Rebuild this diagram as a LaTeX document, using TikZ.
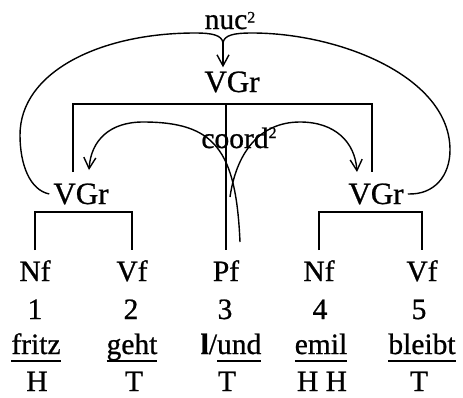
\documentclass[tikz,border=0pt]{standalone}
\usepackage{fontspec}
\setmainfont[FakeBold=0.8]{Liberation Serif}
\usetikzlibrary{arrows.meta}
% underline at a fixed depth, independent of descenders
\newcommand\ulword[1]{\setbox0=\hbox{#1}\rlap{\rule[-7.7pt]{\wd0}{1.5pt}}\box0}
% small raised 2 that does not take part in centring
\newcommand\supertwo[1]{\rlap{\raisebox{#1}{\fontsize{16}{16}\selectfont 2}}}
\begin{document}
\begin{tikzpicture}[x=1pt,y=-1pt,
  lbl/.style={anchor=base,inner sep=0pt,font=\fontsize{29.5}{30}\selectfont},
  grp/.style={anchor=base,inner sep=4pt,font=\fontsize{31}{32}\selectfont},
  tree/.style={line width=1.8pt},
  rel/.style={line width=1.4pt},
  tip/.style={-{Straight Barb[length=11pt,width=12pt,line width=1.4pt]}}
]
\useasboundingbox (0,0) rectangle (463,397);

% phrase nodes
\node[grp] (vgrT) at (232,92) {VGr};
\node[grp] (vgrL) at (81,204) {VGr};
\node[grp] (vgrR) at (376,204) {VGr};

% word categories
\node[lbl] (nf1) at (35,281) {Nf};
\node[lbl] (vf2) at (132,281) {Vf};
\node[lbl] (pf3) at (226,281) {Pf};
\node[lbl] (nf4) at (319,281) {Nf};
\node[lbl] (vf5) at (422,281) {Vf};

% positions
\node[lbl] (n1) at (35,319) {1};
\node[lbl] (n2) at (131,319) {2};
\node[lbl] (n3) at (225,319) {3};
\node[lbl] (n4) at (320,319) {4};
\node[lbl] (n5) at (419,319) {5};

% words
\node[lbl] (w1) at (36,354) {\ulword{fritz}};
\node[lbl] (w2) at (132,354) {\ulword{geht}};
\node[lbl] (w3) at (231,354) {{\bfseries l}/\ulword{und}};
\node[lbl] (w4) at (321,354) {\ulword{emil}};
\node[lbl] (w5) at (422,354) {\ulword{bleibt}};

% tags
\node[lbl] (t1) at (37,391) {H};
\node[lbl] (t2) at (134,391) {T};
\node[lbl] (t3) at (227,391) {T};
\node[lbl] (t4) at (322,391) {H H};
\node[lbl] (t5) at (419,391) {T};

% relation labels
\node[lbl] (nuc) at (226,29) {nuc\supertwo{6.5pt}};
\node[lbl] (coord) at (235,148) {coord\supertwo{10pt}};

% upper tree
\coordinate (hub) at (226,104);
\coordinate (lstem) at (73,172);
\coordinate (rstem) at (372,172);
\draw[tree] (lstem) |- (hub) -| (rstem);
\draw[tree] (hub) -- ([yshift=31pt]pf3.base);

% lower brackets
\draw[tree] ([yshift=31pt]nf1.base) |- ([yshift=69pt]nf1.base) -| ([yshift=31pt]vf2.base);
\draw[tree] ([yshift=31pt]nf4.base) |- ([yshift=69pt]nf4.base) -| ([yshift=31pt]vf5.base);

% nuc relation: two arcs meeting above the top group
\coordinate (cusp) at (223,43);
\draw[rel] (vgrL.west) .. controls (30,190) and (20,165) .. (20,135)
  .. controls (20,72) and (100,33) .. (195,33)
  .. controls (212,33) and (222,35) .. (cusp);
\draw[rel] (vgrR.east) .. controls (435,195) and (450,175) .. (450,150)
  .. controls (450,77) and (340,33) .. (252,33)
  .. controls (234,33) and (224,35) .. (cusp);
\draw[rel,tip] (cusp) -- (cusp |- vgrT.north);

% coord relation: two arcs from the conjunction to the conjuncts
\coordinate (coordA) at (240,242);
\coordinate (coordB) at (230,197);
\coordinate (tipL) at (89,170);
\coordinate (tipR) at (357,172);
\draw[rel,tip] (coordA) .. controls (236,150) and (215,122) .. (143,122)
  .. controls (110,122) and (91,140) .. (tipL);
\draw[rel,tip] (coordB) .. controls (236,155) and (258,122) .. (300,122)
  .. controls (335,122) and (355,142) .. (tipR);
\end{tikzpicture}
\end{document}
